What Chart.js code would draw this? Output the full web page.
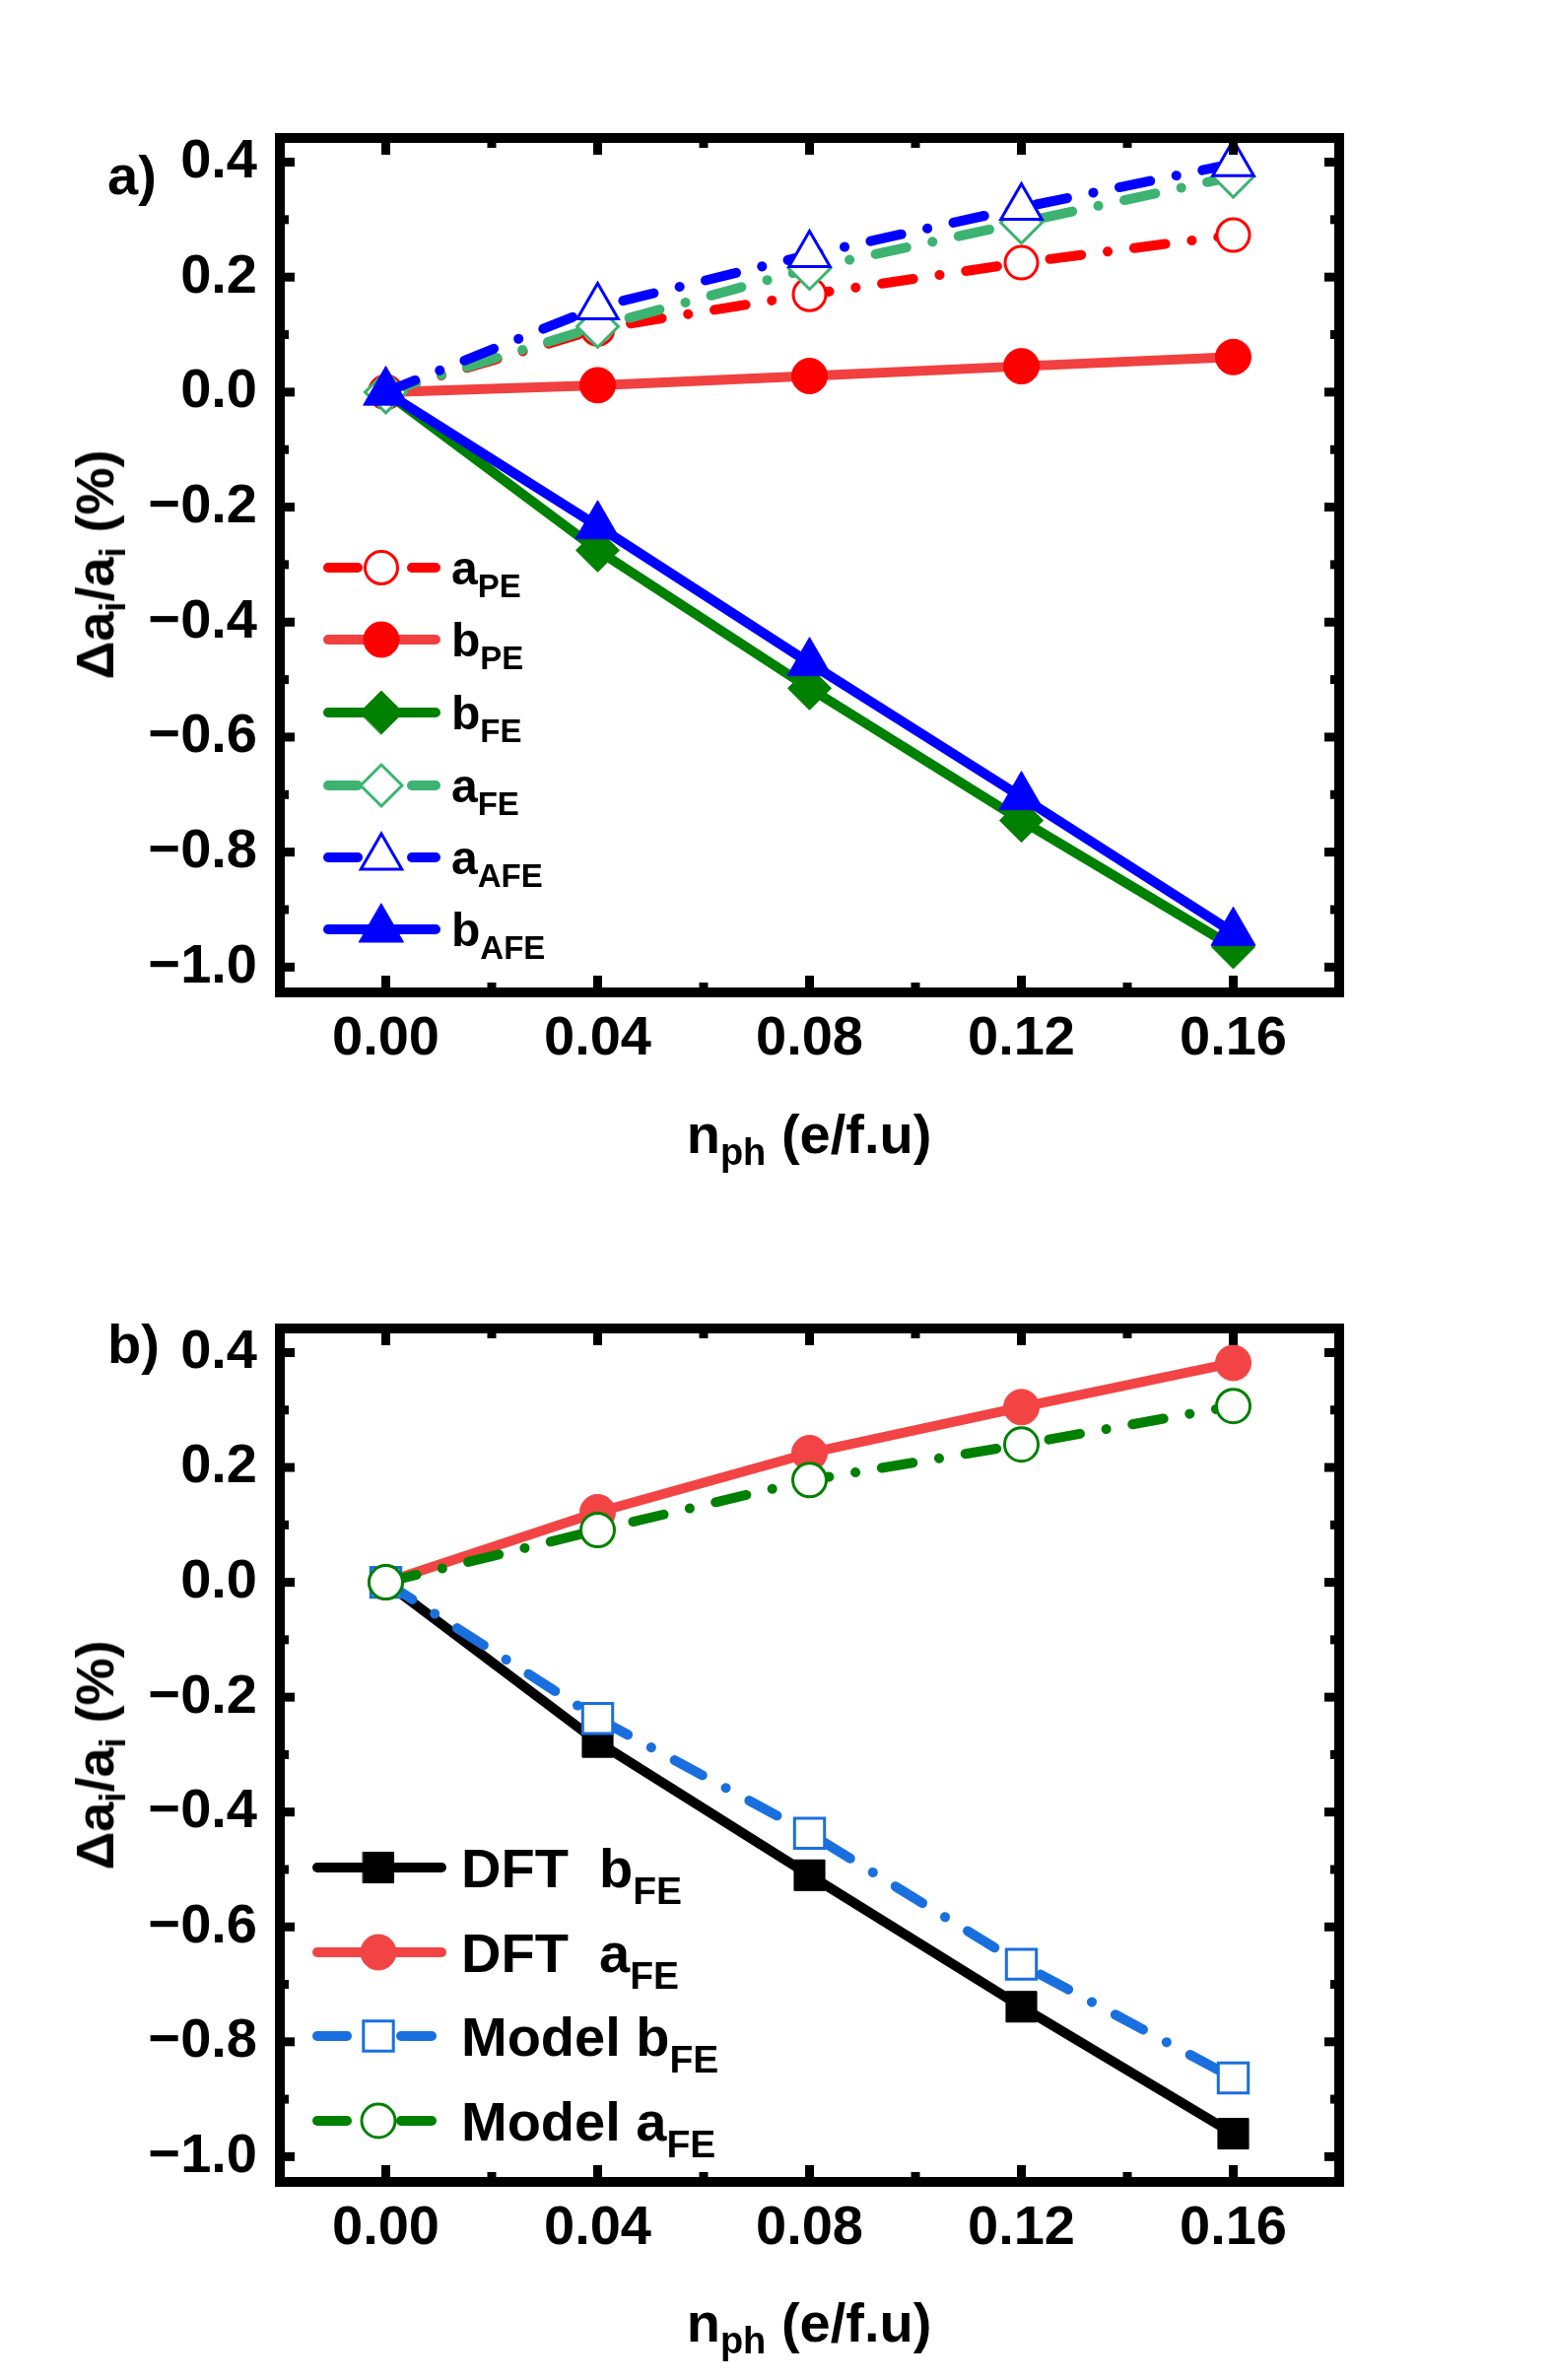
<!DOCTYPE html>
<html>
<head>
<meta charset="utf-8">
<script src="https://cdn.jsdelivr.net/npm/chart.js@4.4.1/dist/chart.umd.min.js"></script>
<style>
  html, body { margin: 0; padding: 0; background: #fff; }
  #page { position: relative; width: 1578px; height: 2415px; overflow: hidden;
          font-family: 'Liberation Sans', Arial, Helvetica, sans-serif; font-weight: bold; color: #000; }
  canvas { position: absolute; left: 0; }
  .t { position: absolute; white-space: nowrap; line-height: 1; }
  .s { position: relative; vertical-align: baseline; line-height: 0; }
</style>
</head>
<body>
<div id="page">
  <canvas id="chartA" width="1578" height="1208" style="top:0"></canvas>
  <canvas id="chartB" width="1578" height="1207" style="top:1208px"></canvas>
</div>
<script>
// x values (n_ph, e/f.u)
const nph = [0, 0.04, 0.08, 0.12, 0.16];

// panel a
const aPE  = [0, 0.110, 0.170, 0.225, 0.273];
const bPE  = [0, 0.012, 0.028, 0.045, 0.061];
const bFE  = [0, -0.275, -0.515, -0.745, -0.965];
const aFE  = [0, 0.114, 0.215, 0.295, 0.375];
const aAFE = [0, 0.148, 0.239, 0.321, 0.397];
const bAFE = [0, -0.233, -0.471, -0.704, -0.940];

// panel b
const dftB   = [0, -0.278, -0.510, -0.739, -0.960];
const dftA   = [0, 0.122, 0.225, 0.305, 0.382];
const modelB = [0, -0.237, -0.437, -0.665, -0.863];
const modelA = [0, 0.091, 0.178, 0.240, 0.307];

// axis ticks
const xMajorTicks = [0, 0.04, 0.08, 0.12, 0.16];
const xMinorTicks = [0.02, 0.06, 0.10, 0.14];
const yMajorTicks = [-1.0, -0.8, -0.6, -0.4, -0.2, 0.0, 0.2, 0.4];
const yMinorTicks = [-0.9, -0.7, -0.5, -0.3, -0.1, 0.1, 0.3];

const FONT = "'Liberation Sans', Arial, Helvetica, sans-serif";
const dashDot = [32, 27, 0.1, 27];

function pts(ys) {
  return nph.map((x, i) => ({ x: x, y: ys[i] }));
}

function series(data, color, opts) {
  const open = opts.open;
  return {
    data: pts(data),
    borderColor: color,
    borderWidth: 10,
    borderDash: opts.dash ? dashDot : [],
    borderCapStyle: 'round',
    borderJoinStyle: 'round',
    pointStyle: opts.style,
    pointRadius: opts.r,
    pointHoverRadius: opts.r,
    pointBackgroundColor: open ? '#ffffff' : (opts.fill || color),
    pointBorderColor: open ? color : (opts.fill || color),
    pointBorderWidth: open ? 3 : 1,
    fill: false,
    tension: 0,
    clip: false,
  };
}

// frame with inward ticks on all four sides, drawn over the data
const frameTicks = {
  id: 'frameTicks',
  afterDatasetsDraw(chart) {
    const ctx = chart.ctx;
    const a = chart.chartArea;
    const x = chart.scales.x, y = chart.scales.y;
    ctx.save();
    ctx.strokeStyle = '#000';
    ctx.lineJoin = 'miter';
    ctx.lineWidth = 10;
    ctx.strokeRect(a.left, a.top, a.right - a.left, a.bottom - a.top);
    ctx.lineWidth = 9;
    ctx.lineCap = 'butt';
    const seg = (x1, y1, x2, y2) => {
      ctx.beginPath(); ctx.moveTo(x1, y1); ctx.lineTo(x2, y2); ctx.stroke();
    };
    xMajorTicks.forEach(v => {
      const p = x.getPixelForValue(v);
      seg(p, a.bottom, p, a.bottom - 17);
      seg(p, a.top, p, a.top + 17);
    });
    xMinorTicks.forEach(v => {
      const p = x.getPixelForValue(v);
      seg(p, a.bottom, p, a.bottom - 10);
      seg(p, a.top, p, a.top + 10);
    });
    yMajorTicks.forEach(v => {
      const p = y.getPixelForValue(v);
      seg(a.left, p, a.left + 15, p);
      seg(a.right, p, a.right - 15, p);
    });
    yMinorTicks.forEach(v => {
      const p = y.getPixelForValue(v);
      seg(a.left, p, a.left + 9, p);
      seg(a.right, p, a.right - 9, p);
    });
    ctx.restore();
  }
};

// legend symbols: line (or two dashes) with the marker in the middle
const lineLegend = {
  id: 'lineLegend',
  afterDatasetsDraw(chart, args, o) {
    const ctx = chart.ctx;
    chart.data.datasets.forEach((ds, i) => {
      const yy = o.rows[i];
      ctx.save();
      ctx.strokeStyle = ds.borderColor;
      ctx.lineWidth = 10;
      ctx.lineCap = 'round';
      const segs = ds.borderDash.length ? o.dashed : [o.solid];
      segs.forEach(s => {
        ctx.beginPath(); ctx.moveTo(s[0], yy); ctx.lineTo(s[1], yy); ctx.stroke();
      });
      ctx.fillStyle = ds.pointBackgroundColor;
      ctx.strokeStyle = ds.pointBorderColor;
      ctx.lineWidth = ds.pointBorderWidth;
      Chart.helpers.drawPoint(ctx, {
        pointStyle: ds.pointStyle, radius: ds.pointRadius, rotation: 0, borderWidth: ds.pointBorderWidth
      }, o.xm, yy);
      ctx.restore();
    });
  }
};

function makeChart(id, datasets, legendOpts) {
  datasets.forEach((d, i) => { d.order = datasets.length - i; });
  return new Chart(document.getElementById(id), {
    type: 'line',
    data: { datasets: datasets },
    options: {
      responsive: false,
      animation: false,
      devicePixelRatio: 1,
      layout: { padding: { left: 84, right: 219, top: 140, bottom: 101 } },
      plugins: {
        legend: { display: false },
        tooltip: { enabled: false },
        lineLegend: legendOpts,
      },
      scales: {
        x: {
          type: 'linear',
          min: -0.02, max: 0.18,
          grid: { display: false, drawTicks: false },
          border: { display: false },
          afterBuildTicks: s => { s.ticks = xMajorTicks.map(v => ({ value: v })); },
          afterFit: s => { s.height = 100; },
          ticks: {
            autoSkip: false, maxRotation: 0, minRotation: 0, padding: 14,
            color: '#000',
            font: { family: FONT, size: 56, weight: 'bold' },
            callback: v => v.toFixed(2),
          },
        },
        y: {
          type: 'linear',
          min: -1.044, max: 0.442,
          grid: { display: false, drawTicks: false },
          border: { display: false },
          afterBuildTicks: s => { s.ticks = yMajorTicks.map(v => ({ value: v })); },
          afterFit: s => { s.width = 200; },
          ticks: {
            autoSkip: false, padding: 23,
            color: '#000',
            font: { family: FONT, size: 56, weight: 'bold' },
            callback: v => (v < 0 ? '\u2212' : '') + Math.abs(v).toFixed(1),
          },
        },
      },
    },
    plugins: [frameTicks, lineLegend],
  });
}

makeChart('chartA', [
  series(aPE,  '#FF0000', { dash: true,  style: 'circle',   r: 16.5, open: true }),
  series(bPE,  '#F04040', { dash: false, style: 'circle',   r: 18,   fill: '#FF0000' }),
  series(bFE,  '#008000', { dash: false, style: 'rectRot',  r: 22 }),
  series(aFE,  '#3CB371', { dash: true,  style: 'rectRot',  r: 21,   open: true }),
  series(aAFE, '#0000FF', { dash: true,  style: 'triangle', r: 24,   open: true }),
  series(bAFE, '#0000FF', { dash: false, style: 'triangle', r: 26 }),
], {
  rows: [576, 649, 723, 797, 870, 943],
  xm: 387,
  solid: [333, 442],
  dashed: [[333, 363], [418, 442]],
});

makeChart('chartB', [
  series(dftB,   '#000000', { dash: false, style: 'rect',   r: 22 }),
  series(dftA,   '#F24444', { dash: false, style: 'circle', r: 18 }),
  series(modelB, '#1A6FDF', { dash: true,  style: 'rect',   r: 21.5, open: true }),
  series(modelA, '#008000', { dash: true,  style: 'circle', r: 17,   open: true }),
], {
  rows: [687, 773, 858, 944],
  xm: 384,
  solid: [322, 448],
  dashed: [[322, 352], [407, 438]],
});

// texts (html, so subscripts stay real text)
const page = document.getElementById('page');
function label(html, x, baseline, size, center) {
  const d = document.createElement('div');
  d.className = 't';
  d.style.fontSize = size + 'px';
  d.style.left = x + 'px';
  d.style.top = (baseline - 0.8465 * size) + 'px';
  if (center) d.style.transform = 'translateX(-50%)';
  d.innerHTML = html;
  page.appendChild(d);
}
function sub(txt, size, drop) {
  return '<span class="s" style="font-size:' + size + 'px;top:' + drop + 'px">' + txt + '</span>';
}
function yTitle(cx, cy) {
  const d = document.createElement('div');
  d.className = 't';
  d.style.fontSize = '54px';
  d.style.left = cx + 'px';
  d.style.top = cy + 'px';
  d.style.transform = 'translate(-50%, -50%) rotate(-90deg)';
  d.innerHTML = '\u0394a' + sub('i', 36, 12) + '/a' + sub('i', 36, 12) + ' (%)';
  page.appendChild(d);
}

label('a)', 109, 197, 56);
label('b)', 109, 1383, 56);
label('n' + sub('ph', 38, 12) + ' (e/f.u)', 821, 1170, 56, true);
label('n' + sub('ph', 38, 12) + ' (e/f.u)', 821, 2376, 56, true);
yTitle(96, 573);
yTitle(96, 1781);

const legA = [['a', 'PE'], ['b', 'PE'], ['b', 'FE'], ['a', 'FE'], ['a', 'AFE'], ['b', 'AFE']];
[594, 667, 741, 815, 888, 961].forEach((b, i) => {
  label(legA[i][0] + sub(legA[i][1], 33, 13), 458, b, 48);
});
const legB = [['DFT&nbsp;&nbsp;b', 'FE'], ['DFT&nbsp;&nbsp;a', 'FE'], ['Model b', 'FE'], ['Model a', 'FE']];
[1915, 2001, 2086, 2172].forEach((b, i) => {
  label(legB[i][0] + sub(legB[i][1], 39, 17), 468, b, 56);
});
</script>
</body>
</html>
